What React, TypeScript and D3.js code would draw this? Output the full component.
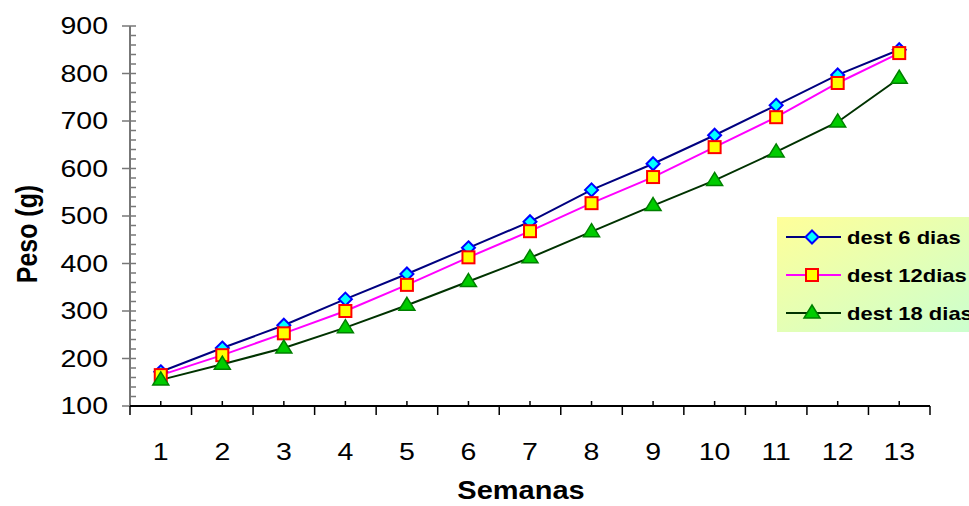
import { useEffect, useRef } from 'react'
import * as d3 from 'd3'

const semanas = ['1', '2', '3', '4', '5', '6', '7', '8', '9', '10', '11', '12', '13']
const dest6 = [172, 222, 270, 325, 378, 433, 488, 555, 610, 670, 733, 797, 850]
const dest12 = [165, 207, 253, 300, 355, 413, 468, 527, 582, 645, 708, 780, 843]
const dest18 = [155, 188, 222, 265, 312, 362, 412, 467, 522, 575, 635, 698, 790]
const seriesNames = ['dest 6 dias', 'dest 12dias', 'dest 18 dias']
const yTicks = [100, 200, 300, 400, 500, 600, 700, 800, 900]

const W = 969
const H = 506
const SY = 0.86 // text is squashed vertically in the picture

export default function App() {
  const svgRef = useRef<SVGSVGElement>(null)

  useEffect(() => {
    if (!svgRef.current) return
    const svg = d3.select(svgRef.current)
    svg.selectAll('*').remove()

    const left = 130, right = 930, top = 26, bottom = 406

    const x = d3.scaleBand().domain(semanas).range([left, right])
    const y = d3.scaleLinear().domain([100, 900]).range([bottom, top])

    const font = 'Liberation Sans, Arial, sans-serif'

    // helper for squashed text
    const addText = (px: number, py: number, txt: string, size: number, anchor: string, bold = false, rot = 0) => {
      svg.append('g')
        .attr('transform', `translate(${px},${py}) rotate(${rot}) scale(${rot ? SY : 1},${rot ? 1 : SY})`)
        .append('text')
        .attr('text-anchor', anchor)
        .attr('dominant-baseline', 'central')
        .attr('font-family', font)
        .attr('font-size', size)
        .attr('font-weight', bold ? 'bold' : 'normal')
        .attr('fill', '#000')
        .text(txt)
    }

    // y axis
    const yMinor = d3.range(100, 901, 20)
    svg.append('g').selectAll('line').data(yMinor).join('line')
      .attr('x1', left).attr('x2', left + 6)
      .attr('y1', d => y(d)).attr('y2', d => y(d))
      .attr('stroke', '#777').attr('stroke-width', 1.5)
    svg.append('g').selectAll('line').data(yTicks).join('line')
      .attr('x1', left - 8).attr('x2', left)
      .attr('y1', d => y(d)).attr('y2', d => y(d))
      .attr('stroke', '#777').attr('stroke-width', 1.5)
    svg.append('line')
      .attr('x1', left).attr('x2', left).attr('y1', top).attr('y2', bottom)
      .attr('stroke', '#777').attr('stroke-width', 2)
    yTicks.forEach(t => addText(108, y(t), String(t), 28.5, 'end'))

    // x axis
    const bounds = semanas.map(s => x(s)!).concat([right])
    svg.append('g').selectAll('line').data(bounds).join('line')
      .attr('x1', d => d).attr('x2', d => d)
      .attr('y1', bottom).attr('y2', bottom + 9)
      .attr('stroke', '#000').attr('stroke-width', 1.5)
    svg.append('g').selectAll('line').data(semanas).join('line')
      .attr('x1', d => x(d)! + x.bandwidth() / 2).attr('x2', d => x(d)! + x.bandwidth() / 2)
      .attr('y1', bottom - 5).attr('y2', bottom)
      .attr('stroke', '#000').attr('stroke-width', 1.5)
    svg.append('line')
      .attr('x1', left).attr('x2', right).attr('y1', bottom).attr('y2', bottom)
      .attr('stroke', '#000').attr('stroke-width', 2)
    semanas.forEach(s => addText(x(s)! + x.bandwidth() / 2, 452, s, 28.5, 'middle'))

    addText(521, 491, 'Semanas', 29, 'middle', true)
    addText(27, 234, 'Peso (g)', 29, 'middle', true, -90)

    const cx = (i: number) => x(semanas[i])! + x.bandwidth() / 2
    const line = d3.line<number>().x((_, i) => cx(i)).y(d => y(d))

    const styles = [
      { data: dest6, line: '#000080', fill: '#00ffff', stroke: '#0000ff', shape: 'diamond' },
      { data: dest12, line: '#ff00ff', fill: '#ffff00', stroke: '#ff0000', shape: 'square' },
      { data: dest18, line: '#003300', fill: '#00cc00', stroke: '#008000', shape: 'triangle' },
    ]

    const marker = (g: any, shape: string, mx: number, my: number, fill: string, stroke: string) => {
      if (shape === 'diamond') {
        g.append('path').attr('d', `M${mx},${my - 6.5}L${mx + 6.5},${my}L${mx},${my + 6.5}L${mx - 6.5},${my}Z`)
          .attr('fill', fill).attr('stroke', stroke).attr('stroke-width', 2)
      } else if (shape === 'square') {
        g.append('rect').attr('x', mx - 6).attr('y', my - 6).attr('width', 12).attr('height', 12)
          .attr('fill', fill).attr('stroke', stroke).attr('stroke-width', 2)
      } else {
        g.append('path').attr('d', `M${mx},${my - 8}L${mx + 8},${my + 5}L${mx - 8},${my + 5}Z`)
          .attr('fill', fill).attr('stroke', stroke).attr('stroke-width', 1.5)
      }
    }

    // draw lines in reverse so blue sits on top like the reference
    ;[...styles].reverse().forEach(s => {
      svg.append('path').datum(s.data).attr('d', line)
        .attr('fill', 'none').attr('stroke', s.line).attr('stroke-width', 2)
    })
    styles.forEach(s => {
      const g = svg.append('g')
      s.data.forEach((v, i) => marker(g, s.shape, cx(i), y(v), s.fill, s.stroke))
    })

    // legend
    const defs = svg.append('defs')
    const grad = defs.append('linearGradient').attr('id', 'lg')
      .attr('x1', '0').attr('y1', '0').attr('x2', '1').attr('y2', '1')
    grad.append('stop').attr('offset', '0').attr('stop-color', '#ffff99')
    grad.append('stop').attr('offset', '1').attr('stop-color', '#c8ffd2')

    svg.append('rect').attr('x', 777).attr('y', 217).attr('width', 220).attr('height', 115)
      .attr('fill', 'url(#lg)')
    const rows = [237, 275, 313]
    styles.forEach((s, i) => {
      const g = svg.append('g')
      g.append('line').attr('x1', 786).attr('x2', 841).attr('y1', rows[i]).attr('y2', rows[i])
        .attr('stroke', s.line).attr('stroke-width', 2)
      marker(g, s.shape, 812, rows[i], s.fill, s.stroke)
      addText(847, rows[i], seriesNames[i], 22, 'start', true)
    })
  }, [])

  return (
    <svg ref={svgRef} width={W} height={H}
      style={{ position: 'absolute', left: 0, top: 0, display: 'block', background: '#fff', overflow: 'hidden' }} />
  )
}
